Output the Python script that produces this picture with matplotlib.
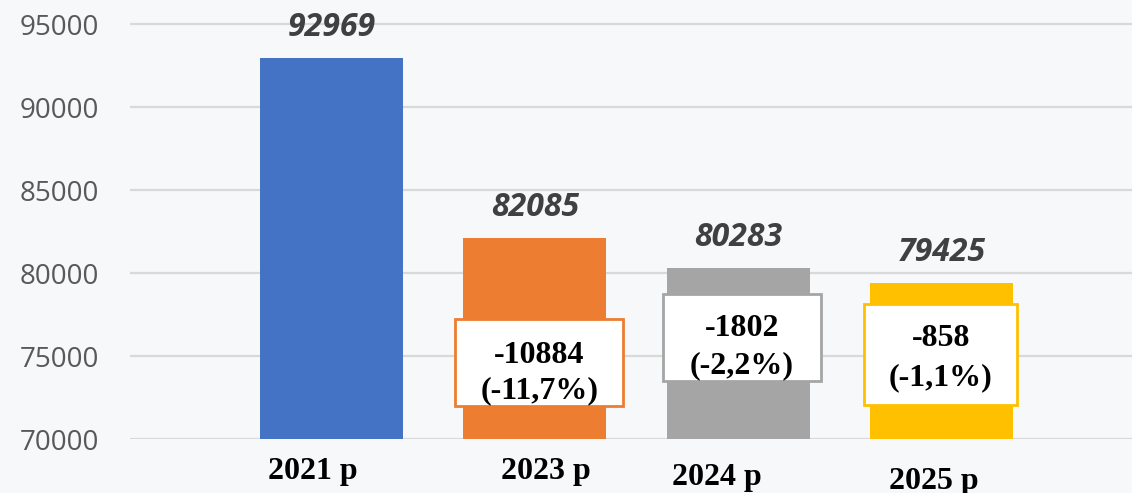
import matplotlib
matplotlib.use("Agg")
import matplotlib.pyplot as plt
from matplotlib.patches import Rectangle
from matplotlib.transforms import offset_copy

categories = ["2021 р", "2023 р", "2024 р", "2025 р"]
values = [92969, 82085, 80283, 79425]
change_abs = ["", "-10884", "-1802", "-858"]
change_pct = ["", "(-11,7%)", "(-2,2%)", "(-1,1%)"]
colors = ["#4472C4", "#ED7D31", "#A5A5A5", "#FFC000"]
yticks = [70000, 75000, 80000, 85000, 90000, 95000]

W, H = 1132, 493
fig = plt.figure(figsize=(W / 100, H / 100), dpi=100)
bg = "#f7f8fa"
fig.patch.set_facecolor(bg)
ax = fig.add_axes([130 / W, (H - 439) / H, 1 - 130 / W, 439 / H])
ax.set_facecolor(bg)

x = list(range(len(values)))
ax.bar(x, [v - 70000 for v in values], bottom=70000, width=0.703, color=colors, zorder=3)
ax.set_xlim(-0.990, 3.934)
ax.set_ylim(70000, 96446)
ax.set_yticks(yticks)
ax.set_yticklabels([str(t) for t in yticks], fontsize=20, color="#595959", family="Open Sans")
ax.tick_params(axis="y", length=0, pad=22)
ax.set_xticks([])
ax.grid(axis="y", color="#d9d9d9", linewidth=1.6, zorder=0)
for s in ax.spines.values():
    s.set_visible(False)

# value labels above bars
for i, v in enumerate(values):
    ax.annotate(str(v), (i, v), xytext=(0, 22), textcoords="offset pixels",
                ha="center", va="baseline", fontsize=23, fontweight="bold", fontstyle="italic",
                color="#404040", family="Open Sans")

# category labels (staggered as in the reference)
label_dx = [-19, 10.5, -21.5, -8.5]
label_dy = [40, 40, 46, 50]
for i, c in enumerate(categories):
    ax.annotate(c, (i, 70000), xytext=(label_dx[i], -label_dy[i]), textcoords="offset pixels",
                ha="center", va="baseline", fontsize=23, fontweight="bold",
                color="black", family="Liberation Serif", annotation_clip=False)

# change boxes
box_w = [0, 0.826, 0.776, 0.752]
box_h = [0, 5240, 5240, 6084]
box_cy = [0, 74608, 76114, 75090]
box_dx = [0, 0.022, 0.017, -0.005]
line1_dy = [0, 0, -1.5, -8.5]
line2_dy = [0, 36, 35.5, 30.5]
for i in range(1, len(values)):
    cx = i + box_dx[i]
    ax.add_patch(Rectangle((cx - box_w[i] / 2, box_cy[i] - box_h[i] / 2), box_w[i], box_h[i],
                           facecolor="white", edgecolor=colors[i], linewidth=2, zorder=4))
    for txt, dy in ((change_abs[i], line1_dy[i]), (change_pct[i], line2_dy[i])):
        ax.annotate(txt, (cx, box_cy[i]), xytext=(0, -dy), textcoords="offset pixels",
                    ha="center", va="baseline", fontsize=23, fontweight="bold",
                    family="Liberation Serif", color="black", zorder=5)

fig.savefig("out.png", dpi=100, facecolor=fig.get_facecolor())
